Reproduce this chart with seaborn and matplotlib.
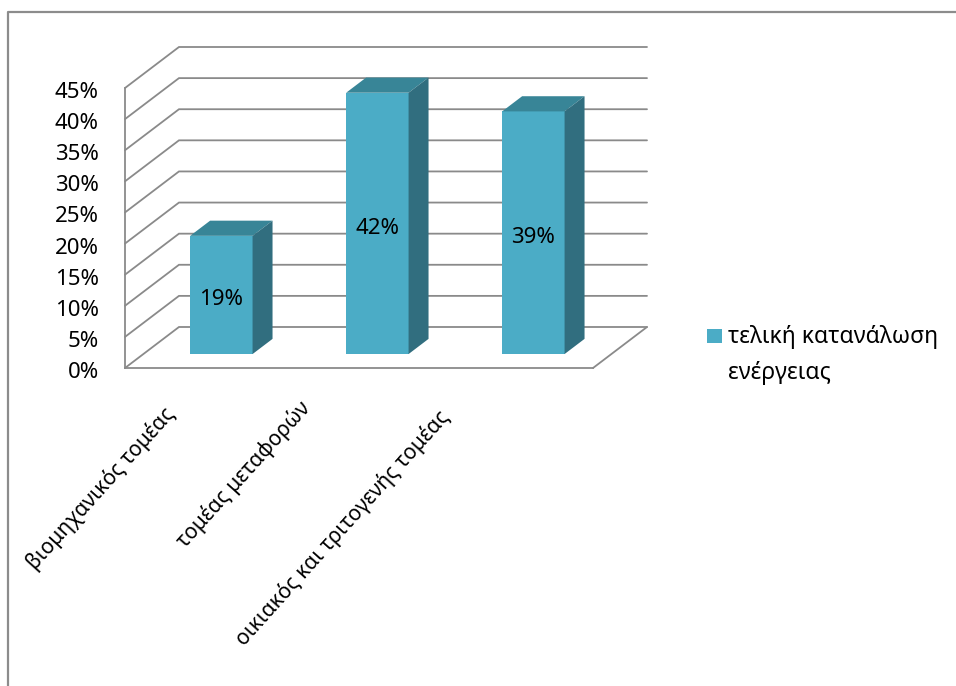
import matplotlib
matplotlib.use("Agg")
import matplotlib.pyplot as plt
import seaborn as sns
import pandas as pd
import numpy as np
from matplotlib.patches import Polygon, Rectangle
from matplotlib.lines import Line2D
from matplotlib import transforms

# ---- data -------------------------------------------------------------
categories = ["βιομηχανικός τομέας", "τομέας μεταφορών", "οικιακός και τριτογενής τομέας"]
values = [19, 42, 39]
series_name = "τελική κατανάλωση\nενέργειας"
y_ticks = [0, 5, 10, 15, 20, 25, 30, 35, 40, 45]
y_tick_labels = [f"{t}%" for t in y_ticks]

# ---- style ------------------------------------------------------------
FRONT = "#4bacc6"
TOP = "#388597"
SIDE = "#316e7f"
GRID = "#8a8a8a"
FS = 16
FS_CAT = 15
FS_LEG = 16.5

sns.set_style("white")
plt.rcParams["font.family"] = ["Noto Sans", "DejaVu Sans"]

W, H = 956, 686
fig = plt.figure(figsize=(W / 100, H / 100), dpi=100)
fig.patch.set_facecolor("white")

n = len(categories)
# oblique offset of the back wall (in data units: categories, percent)
DX, DY = 0.346, 6.59
D0, BD = 0.34, 0.37          # bar front depth and bar depth (fractions of box depth)
ymax = y_ticks[-1]

ax = fig.add_axes([125 / W, (H - 368) / H, 522 / W, 321 / H])
ax.set_facecolor("none")

df = pd.DataFrame({"sector": categories, "share": values})
sns.barplot(data=df, x="sector", y="share", color=FRONT, saturation=1,
            width=0.4, linewidth=0, ax=ax, zorder=3)

ax.set_xlim(-0.5, n - 0.5 + DX)
ax.set_ylim(0, ymax + DY)
ax.set_xlabel("")
ax.set_ylabel("")

# left wall and back wall gridlines
for t in y_ticks:
    ax.plot([-0.5, -0.5 + DX, n - 0.5 + DX], [t, t + DY, t + DY], color=GRID,
            lw=1.3, zorder=1, clip_on=False, solid_joinstyle="miter")
# floor right edge
ax.plot([n - 0.5, n - 0.5 + DX], [0, DY], color=GRID, lw=1.3, zorder=1, clip_on=False)

# front axes
for s in ["top", "right"]:
    ax.spines[s].set_visible(False)
ax.spines["left"].set_bounds(0, ymax)
ax.spines["bottom"].set_bounds(-0.5, n - 0.5)
for s in ["left", "bottom"]:
    ax.spines[s].set_color(GRID)
    ax.spines[s].set_linewidth(1.3)

ax.set_yticks(y_ticks, labels=y_tick_labels)
ax.set_xticks(np.arange(n + 1) - 0.5, labels=[""] * (n + 1))
ax.tick_params(axis="both", direction="out", length=5.8, width=1.3, color=GRID,
               labelsize=FS, labelcolor="black")
ax.tick_params(axis="y", pad=13)
for lab in ax.get_yticklabels():
    lab.set_transform(lab.get_transform() +
                      transforms.ScaledTranslation(0, -2 / 100, fig.dpi_scale_trans))

# 3D bars: shift the front faces back, then add top and side faces
shift = transforms.Affine2D().translate(D0 * DX, D0 * DY) + ax.transData
label_tr = shift + transforms.ScaledTranslation(0, -5 / 100, fig.dpi_scale_trans)
bars = [p for p in ax.patches]
for p, v in zip(bars, values):
    p.set_transform(shift)
    x0, w, h = p.get_x(), p.get_width(), p.get_height()
    bx, by = BD * DX, BD * DY
    top = Polygon([(x0, h), (x0 + w, h), (x0 + w + bx, h + by), (x0 + bx, h + by)],
                  closed=True, facecolor=TOP, edgecolor="none", transform=shift, zorder=3)
    side = Polygon([(x0 + w, 0), (x0 + w + bx, by), (x0 + w + bx, h + by), (x0 + w, h)],
                   closed=True, facecolor=SIDE, edgecolor="none", transform=shift, zorder=3)
    ax.add_patch(top)
    ax.add_patch(side)
    ax.text(x0 + w / 2, h / 2, f"{v}%", transform=label_tr, ha="center", va="center",
            fontsize=FS, color="black", zorder=4)

# rotated category labels
label_offsets = [(-40, -35), (-60, -29), (-77, -38)]
for i, (cat, (ox, oy)) in enumerate(zip(categories, label_offsets)):
    tr = ax.transData + transforms.ScaledTranslation(ox / 100, oy / 100, fig.dpi_scale_trans)
    ax.text(i, 0, cat, transform=tr, rotation=48, rotation_mode="anchor",
            ha="right", va="top", fontsize=FS_CAT, color="black", clip_on=False)

# legend
fig.add_artist(Rectangle((707 / W, 1 - 343 / H), 15 / W, 14 / H, transform=fig.transFigure,
                         facecolor=FRONT, edgecolor="none"))
fig.text(728 / W, 1 - 325 / H, series_name, ha="left", va="top", fontsize=FS_LEG,
         linespacing=1.65, color="black")

# chart frame
fig.add_artist(Line2D([8 / W, 8 / W, 1], [0, 1 - 12 / H, 1 - 12 / H], transform=fig.transFigure,
                      color="#8c8c8c", lw=1.6))

fig.savefig("out.png", dpi=100)
